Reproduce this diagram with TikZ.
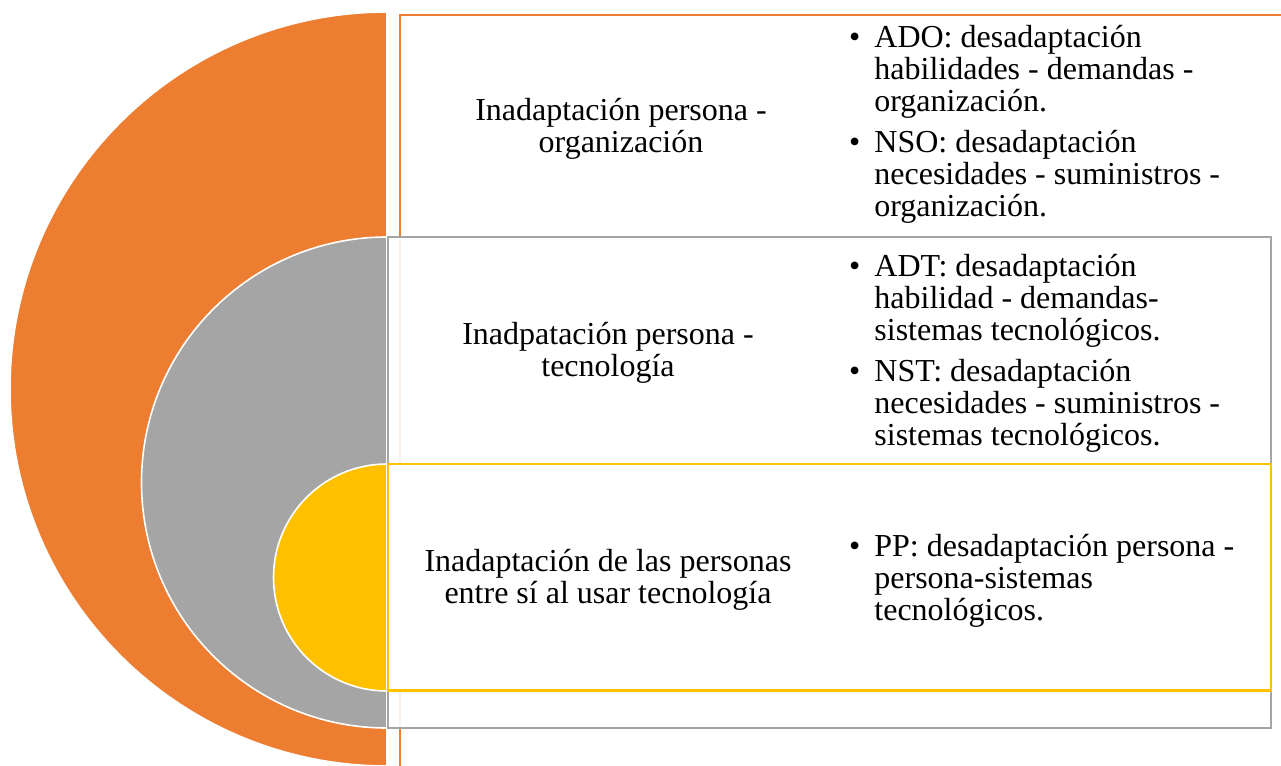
\documentclass[tikz,border=0pt]{standalone}
\usepackage{fontspec}
\setmainfont{Liberation Serif}
\definecolor{corange}{HTML}{ED7D31}
\definecolor{cgray}{HTML}{A5A5A5}
\definecolor{cyellow}{HTML}{FFC000}
\newcommand{\bigtext}{\fontsize{32}{32}\selectfont}
\tikzset{
  halfdisk/.style={draw=white, line width=1.6pt},
  framebox/.style={line width=2.4pt},
  lefttext/.style={align=center, font=\bigtext, inner sep=0pt},
  listtext/.style={anchor=west, font=\bigtext, inner sep=0pt}
}
\begin{document}
\begin{tikzpicture}[x=1pt, y=-1pt]
\useasboundingbox (0,0) rectangle (1281,765);
% orange level
\fill[corange, halfdisk] (387,12) arc[start angle=270, end angle=90, radius=377] -- cycle;
\draw[corange, line width=2pt, fill=white] (400,15) rectangle (1300,800);
% gray level
\fill[cgray, halfdisk] (387,237) arc[start angle=270, end angle=90, radius=245.5] -- cycle;
\draw[cgray, framebox, fill=white, fill opacity=0.9] (388,237) rectangle (1271,728);
% yellow level
\fill[cyellow, halfdisk] (387,464) arc[start angle=270, end angle=90, radius=113.5] -- cycle;
\draw[cyellow, framebox, fill=white, fill opacity=0.9] (388,464) rectangle (1271,690.5);
% texts
\node[lefttext] (t1) at (621,129) {Inadaptación persona -\\organización};
\node[lefttext] (t2) at (608,353) {Inadpatación persona -\\tecnología};
\node[lefttext] (t3) at (608,580) {Inadaptación de las personas\\entre sí al usar tecnología};
\node[listtext] (l1) at (849,126) {\begin{tabular}{@{}l@{\hspace{14pt}}l@{}}
•& ADO: desadaptación\\
 & habilidades - demandas -\\
 & organización.\\[9pt]
•& NSO: desadaptación\\
 & necesidades - suministros -\\
 & organización.
\end{tabular}};
\node[listtext] (l2) at (849,355) {\begin{tabular}{@{}l@{\hspace{14pt}}l@{}}
•& ADT: desadaptación\\
 & habilidad - demandas-\\
 & sistemas tecnológicos.\\[9pt]
•& NST: desadaptación\\
 & necesidades - suministros -\\
 & sistemas tecnológicos.
\end{tabular}};
\node[listtext] (l3) at (849,582) {\begin{tabular}{@{}l@{\hspace{14pt}}l@{}}
•& PP: desadaptación persona -\\
 & persona-sistemas\\
 & tecnológicos.
\end{tabular}};
\end{tikzpicture}
\end{document}
